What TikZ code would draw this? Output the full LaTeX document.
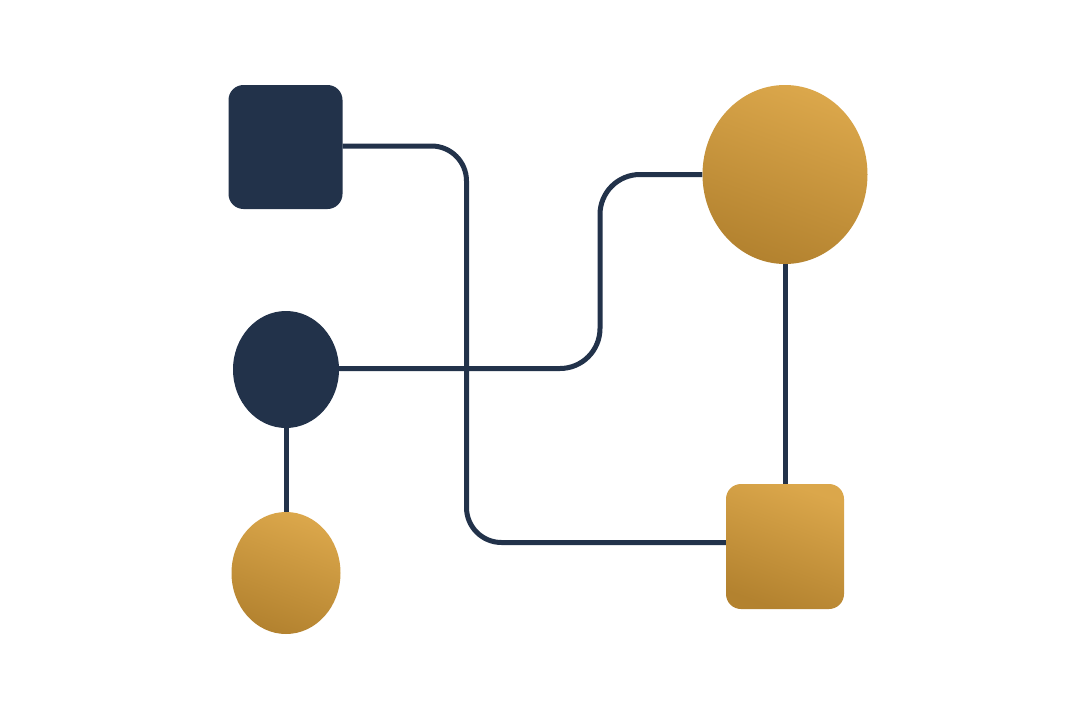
\documentclass[tikz,border=0pt]{standalone}
\usetikzlibrary{shapes.geometric,backgrounds}
\definecolor{navy}{HTML}{22324A}
\definecolor{goldL}{HTML}{DBA74B}
\definecolor{goldD}{HTML}{B3822F}
\tikzset{
  darkbox/.style={rectangle, rounded corners=15pt, fill=navy, draw=none, inner sep=0pt},
  goldbox/.style={rectangle, rounded corners=15pt, top color=goldL, bottom color=goldD, shading angle=-20, draw=none, inner sep=0pt},
  darkdot/.style={ellipse, fill=navy, draw=none, inner sep=0pt},
  golddot/.style={ellipse, top color=goldL, bottom color=goldD, shading angle=-20, draw=none, inner sep=0pt},
  conn/.style={draw=navy, line width=5pt}
}
\begin{document}
\begin{tikzpicture}[x=1pt,y=-1pt]
\useasboundingbox (0,0) rectangle (1080,720);
\node[darkbox, minimum width=114pt, minimum height=124pt] (sq1) at (285.5,147) {};
\node[darkdot, minimum width=106pt, minimum height=117pt] (c1) at (286,369.5) {};
\node[golddot, minimum width=109pt, minimum height=122pt] (e1) at (286,573) {};
\node[golddot, minimum width=165pt, minimum height=179pt] (bigE) at (785,174.5) {};
\node[goldbox, minimum width=118pt, minimum height=125pt] (sq2) at (785,546.5) {};
\begin{pgfonlayer}{background}
\fill[white] (0,0) rectangle (1080,720);
\coordinate (k1) at (466.5,146);
\coordinate (k2) at (600,368.5);
\draw[conn, rounded corners=35pt] (sq1.east |- k1) -- (k1) |- ([yshift=4pt]sq2.west);
\draw[conn, rounded corners=40pt] (c1.east |- k2) -- (k2) |- (bigE.west);
\draw[conn] (c1.south) -- (e1.north);
\draw[conn] (bigE.south) -- (sq2.north);
\end{pgfonlayer}
\end{tikzpicture}
\end{document}
